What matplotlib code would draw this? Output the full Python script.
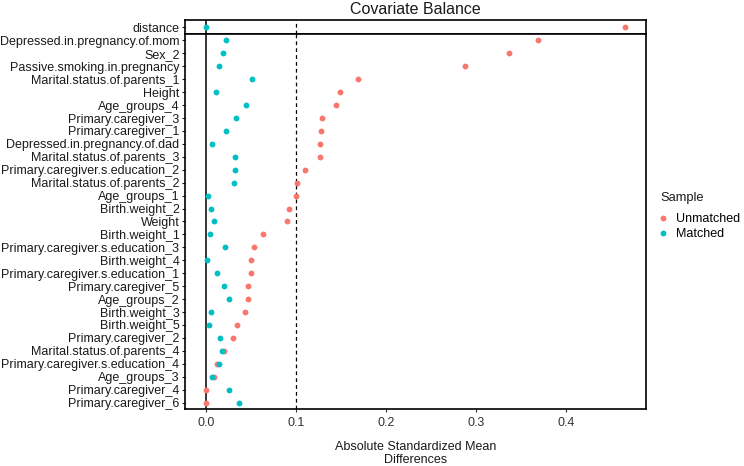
import matplotlib
matplotlib.use("Agg")
import matplotlib.pyplot as plt
from matplotlib.lines import Line2D

plt.rcParams['font.family'] = ['Liberation Sans', 'DejaVu Sans']

# covariates, top to bottom (distance is shown in its own strip)
covariates = [
    "Depressed.in.pregnancy.of.mom", "Sex_2", "Passive.smoking.in.pregnancy",
    "Marital.status.of.parents_1", "Height", "Age_groups_4",
    "Primary.caregiver_3", "Primary.caregiver_1", "Depressed.in.pregnancy.of.dad",
    "Marital.status.of.parents_3", "Primary.caregiver.s.education_2",
    "Marital.status.of.parents_2", "Age_groups_1", "Birth.weight_2", "Weight",
    "Birth.weight_1", "Primary.caregiver.s.education_3", "Birth.weight_4",
    "Primary.caregiver.s.education_1", "Primary.caregiver_5", "Age_groups_2",
    "Birth.weight_3", "Birth.weight_5", "Primary.caregiver_2",
    "Marital.status.of.parents_4", "Primary.caregiver.s.education_4",
    "Age_groups_3", "Primary.caregiver_4", "Primary.caregiver_6",
]
unmatched = [
    0.369, 0.337, 0.288, 0.169, 0.149, 0.145, 0.129, 0.128, 0.127, 0.127,
    0.110, 0.101, 0.1007, 0.093, 0.0907, 0.064, 0.0535, 0.0505, 0.050,
    0.0475, 0.047, 0.0435, 0.0345, 0.0305, 0.020, 0.013, 0.009, 0.0006, 0.0,
]
matched = [
    0.023, 0.0195, 0.0145, 0.051, 0.011, 0.045, 0.034, 0.022, 0.0075, 0.033,
    0.032, 0.031, 0.002, 0.006, 0.0095, 0.0045, 0.021, 0.001, 0.012, 0.020,
    0.0255, 0.0062, 0.0036, 0.016, 0.0176, 0.015, 0.007, 0.026, 0.037,
]
distance_unmatched = 0.466
distance_matched = 0.0

red = "#F8766D"
teal = "#00BFC4"
ms = 4.2
fs = 9.0

fig = plt.figure(figsize=(7.44, 4.66), dpi=100)
left, right = 185 / 744, 646 / 744
ax_top = fig.add_axes([left, 1 - 34 / 466, right - left, 14 / 466])
ax = fig.add_axes([left, 1 - 409 / 466, right - left, 375 / 466], sharex=ax_top)

for a in (ax_top, ax):
    a.axvline(0, color="black", lw=1.1, zorder=1)
    a.axvline(0.1, color="black", lw=0.9, ls=(0, (3, 2.5)), zorder=1)
    for s in a.spines.values():
        s.set_linewidth(1.2)
    a.tick_params(axis="y", length=2.5, labelsize=fs, colors="#1a1a1a", pad=1.5)

# distance strip
ax_top.plot([distance_unmatched], [0], "o", color=red, ms=ms, mec="none", zorder=3)
ax_top.plot([distance_matched], [0], "o", color=teal, ms=ms, mec="none", zorder=3)
ax_top.set_ylim(-0.5, 0.5)
ax_top.set_yticks([0])
ax_top.set_yticklabels(["distance"])
ax_top.tick_params(axis="x", bottom=False, labelbottom=False)
ax_top.set_title("Covariate Balance", fontsize=11.5, color="#1a1a1a", pad=4)

# covariates
pos = list(range(len(covariates)))
ax.plot(unmatched, pos, "o", color=red, ms=ms, mec="none", zorder=3)
ax.plot(matched, pos, "o", color=teal, ms=ms, mec="none", zorder=3)
ax.set_ylim(len(covariates) - 0.5, -0.5)
ax.set_yticks(pos)
ax.set_yticklabels(covariates)
ax.set_xlim(-0.023, 0.489)
ax.set_xticks([0, 0.1, 0.2, 0.3, 0.4])
ax.set_xticklabels(["0.0", "0.1", "0.2", "0.3", "0.4"])
ax.tick_params(axis="x", length=2.5, labelsize=fs, colors="#333333", pad=3)
ax.set_xlabel("Absolute Standardized Mean\nDifferences", fontsize=9.0,
              color="#1a1a1a", labelpad=9, linespacing=1.15)

handles = [
    Line2D([], [], marker="o", ls="none", color=red, ms=ms, mec="none", label="Unmatched"),
    Line2D([], [], marker="o", ls="none", color=teal, ms=ms, mec="none", label="Matched"),
]
fig.text(660 / 744, 1 - 198 / 466, "Sample", fontsize=9.3, color="#1a1a1a",
         ha="left", va="center")
fig.legend(handles=handles, loc="upper left",
           bbox_to_anchor=(652 / 744, 1 - 208.5 / 466), frameon=False,
           fontsize=fs, handletextpad=0.5, borderaxespad=0,
           labelspacing=0.2, handlelength=1.0)

fig.savefig("out.png", dpi=100)
